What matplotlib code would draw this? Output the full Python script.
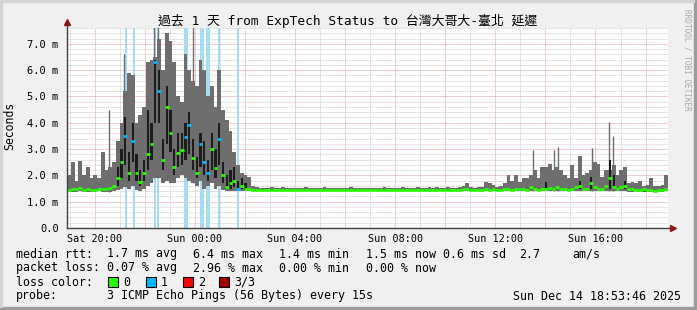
import matplotlib
matplotlib.use("Agg")
import matplotlib.pyplot as plt
from matplotlib.patches import Rectangle
import numpy as np

W, H = 697, 310

# time axis: hours since Sat 00:00, one bin = 0.15 h
t_start = 18.9
bin_h = 0.15

smoke_hi = [
    2.0, 2.5, 1.8, 2.55, 2.0, 2.3, 1.9, 2.0, 1.9, 2.9,
    2.2, 2.3, 2.5, 3.3, 4.0, 5.2, 5.9, 5.8, 4.0, 4.3,
    4.6, 6.3, 6.4, 6.5, 7.2, 6.0, 7.4, 7.1, 6.3, 5.0,
    4.8, 6.6, 6.0, 5.6, 5.4, 6.4, 6.0, 5.0, 5.4, 4.6,
    6.0, 4.5, 4.1, 3.7, 2.9, 2.4, 2.1, 2.0, 1.95, 1.6,
    1.55, 1.52, 1.53, 1.52, 1.54, 1.52, 1.53, 1.55, 1.52, 1.53,
    1.52, 1.53, 1.52, 1.54, 1.52, 1.53, 1.52, 1.52, 1.54, 1.53,
    1.52, 1.51, 1.53, 1.52, 1.52, 1.54, 1.52, 1.51, 1.52, 1.53,
    1.52, 1.53, 1.51, 1.52, 1.54, 1.52, 1.53, 1.52, 1.52, 1.55,
    1.52, 1.53, 1.52, 1.54, 1.52, 1.53, 1.56, 1.52, 1.54, 1.53,
    1.52, 1.55, 1.53, 1.52, 1.56, 1.6, 1.7, 1.55, 1.52, 1.55,
    1.55, 1.75, 1.7, 1.65, 1.55, 1.6, 1.7, 2.0, 1.8, 2.0,
    1.75, 1.9, 1.9, 2.0, 2.2, 1.9, 2.3, 2.3, 2.45, 2.2,
    2.3, 2.2, 2.0, 1.9, 2.4, 1.9, 2.75, 2.0, 2.1, 2.2,
    2.5, 2.45, 1.95, 2.2, 2.2, 2.4, 2.0, 2.2, 2.3, 1.7,
    1.75, 1.7, 1.8, 1.6, 1.65, 1.9, 1.6, 1.6, 1.65, 2.0,
]

smoke_lo = [
    1.38, 1.37, 1.38, 1.39, 1.38, 1.37, 1.38, 1.38, 1.39, 1.38,
    1.38, 1.38, 1.4, 1.45, 1.5, 1.55, 1.5, 1.6, 1.45, 1.4,
    1.5, 1.6, 1.7, 1.9, 1.9, 1.7, 1.8, 1.7, 1.7, 1.9,
    2.0, 1.9, 1.8, 1.7, 1.6, 1.8, 1.5, 1.6, 1.7, 1.5,
    1.6, 1.45, 1.4, 1.4, 1.42, 1.4, 1.4, 1.4, 1.4, 1.4,
    1.4, 1.4, 1.39, 1.4, 1.41, 1.4, 1.4, 1.39, 1.4, 1.4,
    1.4, 1.39, 1.4, 1.4, 1.41, 1.4, 1.4, 1.39, 1.4, 1.4,
    1.4, 1.4, 1.39, 1.4, 1.4, 1.41, 1.4, 1.4, 1.39, 1.4,
    1.4, 1.39, 1.4, 1.4, 1.41, 1.4, 1.4, 1.39, 1.4, 1.4,
    1.4, 1.4, 1.39, 1.4, 1.4, 1.4, 1.41, 1.4, 1.39, 1.4,
    1.4, 1.4, 1.4, 1.39, 1.4, 1.4, 1.4, 1.41, 1.4, 1.4,
    1.4, 1.4, 1.39, 1.4, 1.4, 1.39, 1.4, 1.4, 1.4, 1.41,
    1.4, 1.4, 1.39, 1.4, 1.4, 1.4, 1.4, 1.39, 1.4, 1.4,
    1.4, 1.41, 1.4, 1.39, 1.4, 1.4, 1.4, 1.39, 1.4, 1.4,
    1.4, 1.39, 1.4, 1.4, 1.4, 1.4, 1.39, 1.4, 1.4, 1.38,
    1.38, 1.39, 1.38, 1.37, 1.38, 1.38, 1.37, 1.38, 1.38, 1.39,
]

median = [
    1.45, 1.5, 1.47, 1.52, 1.45, 1.5, 1.46, 1.44, 1.47, 1.5,
    1.47, 1.52, 1.6, 1.9, 2.5, 3.5, 2.1, 3.3, 2.1, 1.75,
    2.1, 2.8, 3.2, 6.3, 5.2, 2.6, 4.6, 3.6, 2.3, 2.85,
    2.96, 3.46, 3.9, 2.66, 2.1, 3.2, 2.5, 2.1, 3.0, 2.28,
    3.4, 2.0, 1.57, 1.7, 1.8, 1.5, 1.6, 1.5, 1.48, 1.45,
    1.46, 1.45, 1.44, 1.45, 1.46, 1.45, 1.44, 1.46, 1.45, 1.45,
    1.44, 1.45, 1.46, 1.45, 1.44, 1.45, 1.45, 1.46, 1.44, 1.45,
    1.45, 1.44, 1.46, 1.45, 1.45, 1.43, 1.45, 1.44, 1.46, 1.45,
    1.44, 1.45, 1.45, 1.46, 1.44, 1.45, 1.43, 1.45, 1.46, 1.44,
    1.45, 1.46, 1.44, 1.45, 1.45, 1.44, 1.46, 1.45, 1.44, 1.45,
    1.46, 1.45, 1.44, 1.45, 1.46, 1.47, 1.48, 1.45, 1.44, 1.46,
    1.46, 1.48, 1.45, 1.47, 1.45, 1.44, 1.47, 1.5, 1.46, 1.48,
    1.5, 1.47, 1.45, 1.55, 1.48, 1.46, 1.5, 1.47, 1.52, 1.5,
    1.55, 1.48, 1.5, 1.46, 1.5, 1.55, 1.6, 1.5, 1.48, 1.7,
    1.55, 1.5, 1.48, 1.6, 1.9, 1.55, 1.5, 1.55, 1.6, 1.48,
    1.5, 1.46, 1.45, 1.47, 1.44, 1.45, 1.42, 1.44, 1.45, 1.47,
]

# single thin smoke spikes (hour, top value)
spike_hours = [20.58, 21.18, 22.38, 22.54, 23.94, 37.50, 38.34, 38.50, 39.86, 40.54, 40.70]
spike_tops = [4.5, 6.6, 8.0, 8.0, 8.0, 2.97, 2.97, 3.09, 3.04, 4.04, 3.5]

# dark core of the smoke (bin index, low, high)
core_bins = [13, 14, 15, 16, 17, 18, 19, 20, 21, 22, 23, 24, 25, 26, 27, 28, 29, 30,
             31, 32, 33, 34, 35, 36, 37, 38, 39, 40, 41, 42, 43, 44, 45, 46, 47,
             127, 136, 139, 144, 145, 148]
core_lo = [1.6, 1.9, 2.4, 1.8, 2.5, 1.8, 1.6, 1.8, 2.2, 2.6, 4.0, 4.0, 2.2, 3.2, 2.9, 2.0, 2.3, 2.4,
           2.6, 2.8, 2.2, 1.9, 2.3, 2.0, 1.8, 2.2, 1.9, 2.4, 1.7, 1.5, 1.5, 1.55, 1.45, 1.5, 1.45,
           1.45, 1.5, 1.5, 1.5, 1.5, 1.48]
core_hi = [2.3, 3.0, 4.2, 2.9, 4.0, 2.8, 2.2, 2.6, 4.5, 4.0, 6.4, 6.0, 3.4, 5.4, 4.5, 3.0, 3.6, 3.6,
           4.0, 4.4, 3.4, 2.7, 3.6, 3.3, 2.6, 3.6, 3.0, 4.0, 2.5, 2.0, 2.2, 2.3, 1.8, 1.9, 1.7,
           1.75, 1.8, 1.95, 2.6, 2.0, 1.8]

# times with packet loss (1 of 3 lost)
loss_hours = [21.25, 21.58, 22.42, 22.54, 23.62, 23.70, 24.24, 24.34, 24.50, 24.58, 24.98, 25.74]

tick_hours = [20, 24, 28, 32, 36, 40]
tick_labels = ["Sat 20:00", "Sun 00:00", "Sun 04:00", "Sun 08:00", "Sun 12:00", "Sun 16:00"]
y_ticks = [0, 1, 2, 3, 4, 5, 6, 7]
y_labels = ["0.0", "1.0 m", "2.0 m", "3.0 m", "4.0 m", "5.0 m", "6.0 m", "7.0 m"]

title = "過去 1 天 from ExpTech Status to 台灣大哥大-臺北 延遲"
rtt_stats = ["median rtt:", "1.7 ms avg", "6.4 ms max", "1.4 ms min", "1.5 ms now", "0.6 ms sd", "2.7", "am/s"]
loss_stats = ["packet loss:", "0.07 % avg", "2.96 % max", "0.00 % min", "0.00 % now"]
loss_names = ["0", "1", "2", "3/3"]
loss_colors = ["#26ff00", "#00b8ff", "#ff0000", "#a00000"]
probe_text = "3 ICMP Echo Pings (56 Bytes) every 15s"
stamp = "Sun Dec 14 18:53:46 2025"

MONO = "DejaVu Sans Mono"
SMOKE = "#6e6e6e"


def fx(px):
    return px / W


def fy(py):
    return 1 - py / H


fig = plt.figure(figsize=(W / 100, H / 100), dpi=100, facecolor="#f0f0f0")
ax = fig.add_axes([fx(67), fy(228), (668 - 67) / W, 200 / H])
ax.set_facecolor("white")

x0, x1 = t_start - 0.004, t_start + 24 - 0.004
ax.set_xlim(x0, x1)
ax.set_ylim(0, 7.6)

# grid
for h in np.arange(19, 43):
    major = h % 2 == 0
    ax.axvline(h, color="#e49c9c" if major else "#cccccc", lw=0.72,
               ls=(0, (1, 1)), zorder=0.5)
for v in np.arange(0.2, 7.7, 0.2):
    major = abs(v - round(v)) < 1e-6
    ax.axhline(v, color="#e49c9c" if major else "#cccccc", lw=0.72,
               ls=(0, (1, 1)), zorder=0.5)

edges = t_start + bin_h * np.arange(len(median) + 1)
hi = np.array(smoke_hi)
lo = np.array(smoke_lo)
med = np.array(median)

for h in loss_hours:
    ax.axvline(h, color="#a6dcf6", lw=1.4, zorder=1)

ax.stairs(hi, edges, baseline=lo, fill=True, color=SMOKE, lw=0, zorder=2)
spike_bin = ((np.array(spike_hours) - t_start) // bin_h).astype(int)
ax.vlines(spike_hours, lo[spike_bin], spike_tops, color=SMOKE, lw=1.0, zorder=2)

core_x = edges[core_bins] + bin_h * 0.2
ax.bar(core_x, np.array(core_hi) - np.array(core_lo), bottom=core_lo,
       width=bin_h * 0.6, align="edge", color="#1c1c1c", lw=0, zorder=3)

loss_bin = np.zeros(len(med), dtype=bool)
for h in loss_hours:
    loss_bin[int((h - t_start) // bin_h)] = True
ax.hlines(med[~loss_bin], edges[:-1][~loss_bin], edges[1:][~loss_bin],
          color=loss_colors[0], lw=2.0, zorder=4)
ax.hlines(med[loss_bin], edges[:-1][loss_bin], edges[1:][loss_bin],
          color=loss_colors[1], lw=2.0, zorder=4)

ax.set_xticks(tick_hours)
ax.set_xticklabels(tick_labels, family=MONO, fontsize=7.3)
ax.set_yticks(y_ticks)
ax.set_yticklabels(y_labels, family=MONO, fontsize=7.5)
ax.tick_params(axis="both", length=0, colors="#000000")
ax.tick_params(axis="x", pad=4)
ax.tick_params(axis="y", pad=6)
for s in ax.spines.values():
    s.set_visible(False)

# axes with arrows
axis_col = "#404040"
ax.plot([x0, x1 + 0.12], [0, 0], color=axis_col, lw=1, clip_on=False, zorder=5)
ax.plot([x0, x0], [0, 7.75], color=axis_col, lw=1, clip_on=False, zorder=5)
ax.plot([x1 + 0.18], [0], marker=">", ms=4, color="#8b1a1a", clip_on=False, zorder=6)
ax.plot([x0], [7.82], marker="^", ms=4, color="#8b1a1a", clip_on=False, zorder=6)

# titles
fig.text(fx(348), fy(21), title, family=[MONO, "Noto Sans CJK TC"], fontsize=9.3,
         ha="center", va="center")
fig.text(fx(10), fy(126), "Seconds", family=MONO, fontsize=8.3, rotation=90,
         ha="center", va="center")
fig.text(fx(687), fy(60), "RRDTOOL / TOBI OETIKER", family=MONO, fontsize=5.6,
         color="#a8a8a8", rotation=270, ha="center", va="center")

# legend block
lf = 8.4
for txt, px in zip(rtt_stats, [16, 107, 193, 279, 366, 443, 519, 572]):
    fig.text(fx(px), fy(254), txt, family=MONO, fontsize=lf, va="center")
for txt, px in zip(loss_stats, [16, 107, 193, 279, 366]):
    fig.text(fx(px), fy(268), txt, family=MONO, fontsize=lf, va="center")
fig.text(fx(16), fy(282), "loss color:", family=MONO, fontsize=lf, va="center")
for name, col, bx in zip(loss_names, loss_colors, [108, 146, 183, 219]):
    fig.patches.append(Rectangle((fx(bx), fy(287)), 10 / W, 10 / H, transform=fig.transFigure,
                                 facecolor=col, edgecolor="black", lw=0.8))
    fig.text(fx(bx + 15), fy(282), name, family=MONO, fontsize=lf, va="center")
fig.text(fx(16), fy(296), "probe:", family=MONO, fontsize=lf, va="center")
fig.text(fx(107), fy(296), probe_text, family=MONO, fontsize=lf, va="center")
fig.text(fx(513), fy(296), stamp, family=MONO, fontsize=lf, va="center")

# frame
fig.patches.append(Rectangle((0, 0), 1, 3 / H, transform=fig.transFigure, color="#9c9c9c"))
fig.patches.append(Rectangle((1 - 3 / W, 0), 3 / W, 1, transform=fig.transFigure, color="#9c9c9c"))
fig.patches.append(Rectangle((0, 1 - 2 / H), 1 - 3 / W, 2 / H, transform=fig.transFigure, color="#d4d4d4"))
fig.patches.append(Rectangle((0, 3 / H), 2 / W, 1, transform=fig.transFigure, color="#d4d4d4"))

fig.savefig("out.png", dpi=100, facecolor=fig.get_facecolor())
